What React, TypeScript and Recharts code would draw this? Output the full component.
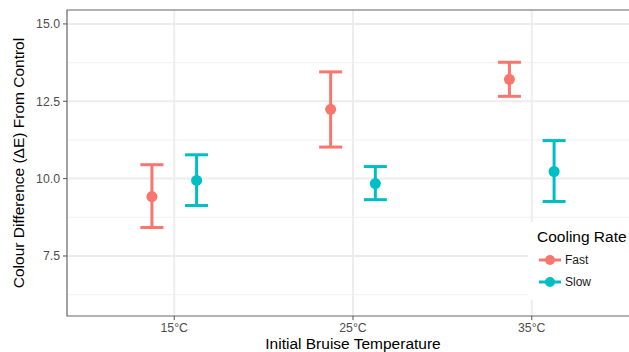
import {
  ScatterChart,
  Scatter,
  ErrorBar,
  XAxis,
  YAxis,
  CartesianGrid,
  ReferenceArea,
  Legend,
} from "recharts";

const categories = ["15°C", "25°C", "35°C"];
const seriesNames = ["Fast", "Slow"];
const seriesColors = ["#F8766D", "#00BFC4"];

const fastMean = [9.42, 12.24, 13.21];
const fastLow = [8.42, 11.02, 12.66];
const fastHigh = [10.45, 13.45, 13.76];

const slowMean = [9.94, 9.84, 10.23];
const slowLow = [9.13, 9.32, 9.26];
const slowHigh = [10.77, 10.39, 11.23];

const yTicks = [7.5, 10, 12.5, 15];
const yMinor = [6.25, 8.75, 11.25, 13.75];
const xTicks = [1, 2, 3];

const Y_MIN = 5.56;
const Y_MAX = 15.45;
const X_MIN = 0.4;
const X_MAX = 3.6;
const DODGE = 0.125;

const FONT = "'Liberation Sans', Arial, sans-serif";

const build = (mean: number[], low: number[], high: number[], shift: number) =>
  mean.map((m, i) => ({
    x: i + 1 + shift,
    y: m,
    err: [m - low[i], high[i] - m],
  }));

const fastData = build(fastMean, fastLow, fastHigh, -DODGE);
const slowData = build(slowMean, slowLow, slowHigh, DODGE);

const Dot = (color: string) => (props: any) => (
  <circle cx={props.cx} cy={props.cy} r={5.5} fill={color} />
);

const LegendBox = () => (
  <div style={{ background: "#fff", width: 102, height: 78, fontFamily: FONT }}>
    <div style={{ fontSize: 15.5, color: "#000", paddingLeft: 9, paddingTop: 6, lineHeight: "18px" }}>
      Cooling Rate
    </div>
    <div style={{ height: 3 }} />
    {seriesNames.map((n, i) => (
      <div key={n} style={{ display: "flex", alignItems: "center", height: 22, paddingLeft: 11 }}>
        <svg width={22} height={14}>
          <line x1={0} y1={7} x2={22} y2={7} stroke={seriesColors[i]} strokeWidth={3} />
          <circle cx={11} cy={7} r={5} fill={seriesColors[i]} />
        </svg>
        <span style={{ fontSize: 12, color: "#1a1a1a", marginLeft: 4 }}>{n}</span>
      </div>
    ))}
  </div>
);

export default function App() {
  return (
    <div style={{ position: "absolute", left: 0, top: 0, width: 629, height: 352, overflow: "hidden", background: "#fff" }}>
      <ScatterChart width={650} height={352} margin={{ top: 10, right: 11, left: 0, bottom: 0 }}>
        <CartesianGrid horizontalValues={yMinor} vertical={false} stroke="#f3f3f3" strokeWidth={1.2} />
        <CartesianGrid horizontalValues={yTicks} verticalValues={xTicks} stroke="#ededed" strokeWidth={2} />
        <XAxis
          type="number"
          dataKey="x"
          domain={[X_MIN, X_MAX]}
          ticks={xTicks}
          allowDataOverflow
          tickFormatter={(v) => categories[v - 1]}
          height={36}
          tickSize={4}
          tickMargin={3}
          axisLine={false}
          tickLine={{ stroke: "#555" }}
          tick={{ fontSize: 12.3, fill: "#4d4d4d", fontFamily: FONT }}
          label={{
            content: (p: any) => (
              <text
                x={p.viewBox.x + p.viewBox.width / 2}
                y={349}
                textAnchor="middle"
                fontSize={15.5}
                fontFamily={FONT}
                fill="#000"
              >
                Initial Bruise Temperature
              </text>
            ),
          }}
        />
        <YAxis
          type="number"
          dataKey="y"
          domain={[Y_MIN, Y_MAX]}
          ticks={yTicks}
          allowDataOverflow
          width={67}
          tickFormatter={(v) => v.toFixed(1)}
          tickSize={4}
          tickMargin={3}
          axisLine={false}
          tickLine={{ stroke: "#555" }}
          tick={{ fontSize: 12.3, fill: "#4d4d4d", fontFamily: FONT }}
          label={{
            content: (p: any) => {
              const cy = p.viewBox.y + p.viewBox.height / 2;
              return (
                <text
                  x={18}
                  y={cy}
                  transform={`rotate(-90, 18, ${cy})`}
                  textAnchor="middle"
                  dominantBaseline="central"
                  fontSize={15.5}
                  fontFamily={FONT}
                  fill="#000"
                >
                  Colour Difference (ΔE) From Control
                </text>
              );
            },
          }}
        />
        <ReferenceArea x1={X_MIN} x2={X_MAX} y1={Y_MIN} y2={Y_MAX} fill="none" stroke="#666" strokeWidth={1.2} />
        <Scatter name={seriesNames[0]} data={fastData} shape={Dot(seriesColors[0])} isAnimationActive={false}>
          <ErrorBar dataKey="err" direction="y" width={11.5} strokeWidth={3} stroke={seriesColors[0]} />
        </Scatter>
        <Scatter name={seriesNames[1]} data={slowData} shape={Dot(seriesColors[1])} isAnimationActive={false}>
          <ErrorBar dataKey="err" direction="y" width={11.5} strokeWidth={3} stroke={seriesColors[1]} />
        </Scatter>
        <Legend
          layout="vertical"
          align="center"
          verticalAlign="middle"
          content={() => <LegendBox />}
          wrapperStyle={{ left: 528, top: 222, width: 102, height: 78 }}
        />
      </ScatterChart>
    </div>
  );
}
